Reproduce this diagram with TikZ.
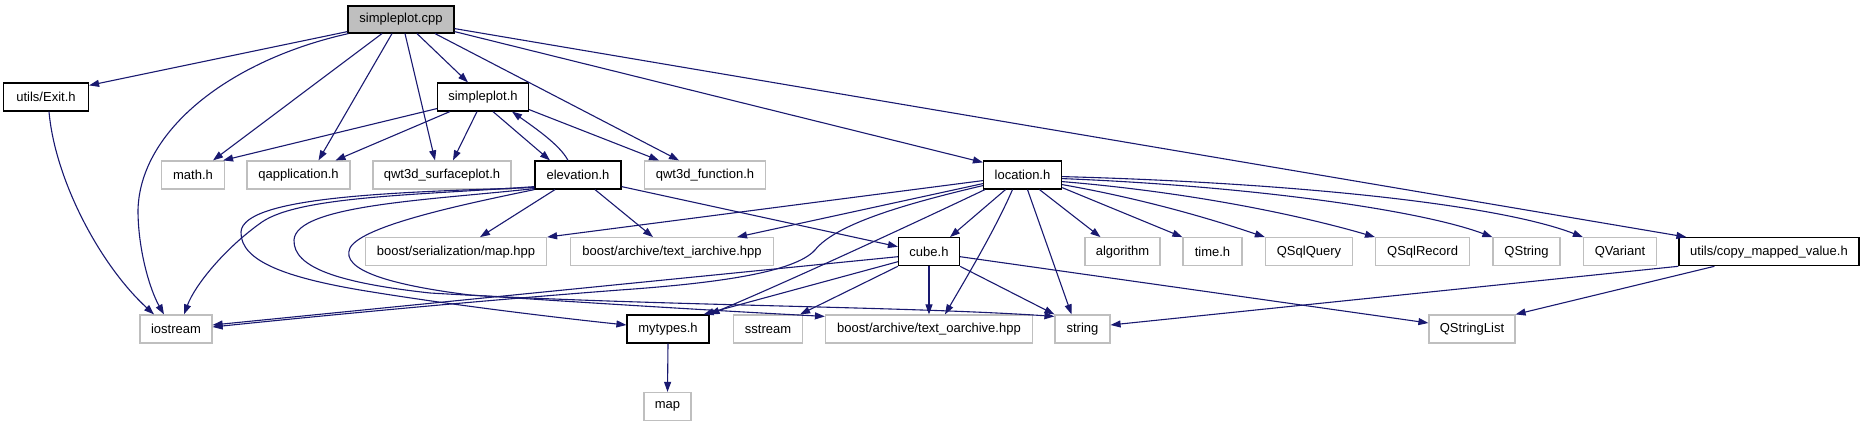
\documentclass[tikz,border=0pt]{standalone}
\usepackage{fontspec}
\setmainfont{Liberation Sans}
\usetikzlibrary{arrows.meta,calc}
\definecolor{navy}{HTML}{191970}
\definecolor{greyb}{HTML}{BFBFBF}
\begin{document}
\begin{tikzpicture}[x=1pt,y=-1pt,
  base/.style={rectangle,inner sep=0pt,minimum height=28pt,font=\fontsize{13}{15}\selectfont,fill=white},
  docnode/.style={base,draw=black,line width=1.2pt},
  extnode/.style={base,draw=greyb,line width=1.2pt},
  rootnode/.style={docnode,fill=greyb},
  edge/.style={draw=navy,line width=1.1pt,-{Triangle[length=10pt,width=7pt]}}]
\useasboundingbox (0,0) rectangle (1864,427);
% row 0
\node[rootnode,minimum width=106pt,minimum height=27pt] (cpp) at (401,19.5) {simpleplot.cpp};
% row 1
\node[docnode,minimum width=85pt] (exit) at (46,97) {utils/Exit.h};
\node[docnode,minimum width=91pt] (sph) at (483,97) {simpleplot.h};
% row 2
\node[extnode,minimum width=63pt] (math) at (193,175) {math.h};
\node[extnode,minimum width=103pt] (qapp) at (298.5,175) {qapplication.h};
\node[extnode,minimum width=138pt] (surf) at (442,175) {qwt3d\_surfaceplot.h};
\node[docnode,minimum width=86pt] (elev) at (578,175) {elevation.h};
\node[extnode,minimum width=121pt] (func) at (705,175) {qwt3d\_function.h};
\node[docnode,minimum width=78pt] (loc) at (1022.5,175) {location.h};
% row 3
\node[extnode,minimum width=181pt] (smap) at (456,251.7) {boost/serialization/map.hpp};
\node[extnode,minimum width=203pt] (iarch) at (672,251.7) {boost/archive/text\_iarchive.hpp};
\node[docnode,minimum width=61pt] (cube) at (929,251.7) {cube.h};
\node[extnode,minimum width=75pt] (algo) at (1122.5,251.7) {algorithm};
\node[extnode,minimum width=59pt] (time) at (1212.5,251.7) {time.h};
\node[extnode,minimum width=87pt] (sqlq) at (1309,251.7) {QSqlQuery};
\node[extnode,minimum width=94pt] (sqlr) at (1422.6,251.7) {QSqlRecord};
\node[extnode,minimum width=67pt] (qstr) at (1526.5,251.7) {QString};
\node[extnode,minimum width=73pt] (qvar) at (1620,251.7) {QVariant};
\node[docnode,minimum width=180pt] (copy) at (1769,251.7) {utils/copy\_mapped\_value.h};
% row 4
\node[extnode,minimum width=72pt] (ios) at (176,329) {iostream};
\node[docnode,minimum width=82pt] (myt) at (668,329) {mytypes.h};
\node[extnode,minimum width=69pt] (sstr) at (768,329) {sstream};
\node[extnode,minimum width=207pt] (oarch) at (929,329) {boost/archive/text\_oarchive.hpp};
\node[extnode,minimum width=55pt] (str) at (1082.5,329) {string};
\node[extnode,minimum width=86pt] (qsl) at (1472,329) {QStringList};
% row 5
\node[extnode,minimum width=47pt] (map) at (667.5,406.5) {map};

% simpleplot.cpp
\draw[edge] ([yshift=2pt]cpp.south west) -- ([yshift=-3pt]exit.north east);
\draw[edge] ([xshift=1pt]cpp.south west) .. controls (230,60) and (140,130) .. (138,210) .. controls (138,250) and (150,290) .. ([xshift=-12pt]ios.north);
\draw[edge] ([xshift=-19pt]cpp.south) -- ([xshift=20pt]math.north);
\draw[edge] ([xshift=-9pt]cpp.south) -- ([xshift=20pt]qapp.north);
\draw[edge] ([xshift=4pt]cpp.south) -- ([xshift=-7pt]surf.north);
\draw[edge] ([xshift=16pt]cpp.south) -- ([xshift=-15pt]sph.north);
\draw[edge] ([xshift=34pt]cpp.south) -- ([xshift=-26pt]func.north);
\draw[edge] ([yshift=2pt]cpp.south east) -- ([yshift=-2pt]loc.north west);
\draw[edge] ([yshift=5pt]cpp.south east) -- ([xshift=8pt]copy.north west);
% utils/Exit.h
\draw[edge] ([xshift=3pt]exit.south) .. controls (55,180) and (100,265) .. ([xshift=-22pt]ios.north);
% simpleplot.h
\draw[edge] ([yshift=3pt]sph.south west) -- ([xshift=-2pt]math.north east);
\draw[edge] ([xshift=13pt]sph.south west) -- ([xshift=37pt]qapp.north);
\draw[edge] ([xshift=-6pt]sph.south) -- ([xshift=11pt]surf.north);
\draw[edge] ([xshift=10pt]sph.south) -- ([xshift=-28pt]elev.north);
\draw[edge] ([yshift=2pt]sph.south east) -- ([xshift=-46pt]func.north);
% elevation.h
\draw[edge] ([xshift=-10pt]elev.north) .. controls (560,145) and (535,128) .. ([xshift=29pt]sph.south);
\draw[edge] ([xshift=-23pt]elev.south) -- ([xshift=24pt]smap.north);
\draw[edge] ([xshift=17pt]elev.south) -- ([xshift=-19pt]iarch.north);
\draw[edge] ([yshift=3pt]elev.south east) -- ([yshift=5pt]cube.west);
\draw[edge] ([yshift=3pt]elev.south west) .. controls (420,195) and (300,196) .. (262,222) .. controls (225,248) and (195,285) .. ([xshift=8pt]ios.north);
\draw[edge] ([yshift=2pt]elev.south west) .. controls (400,192) and (243,196) .. (241,232) .. controls (240,262) and (290,278) .. (360,290) .. controls (450,305) and (560,318) .. ([yshift=4pt]myt.west);
\draw[edge] ([yshift=1pt]elev.south west) .. controls (430,200) and (296,205) .. (294,240) .. controls (293,268) and (340,283) .. (430,293) .. controls (650,306) and (900,306) .. ([yshift=-2pt]str.north west);
\draw[edge] (elev.south west) .. controls (470,203) and (362,225) .. (350,248) .. controls (340,270) and (390,285) .. (470,295) .. controls (620,305) and (740,312) .. ([yshift=-2pt]oarch.north west);
% location.h
\draw[edge] ([yshift=9pt]loc.south west) -- (smap.north east);
\draw[edge] ([yshift=6pt]loc.south west) -- ([xshift=65pt]iarch.north);
\draw[edge] ([yshift=4pt]loc.south west) .. controls (900,205) and (835,225) .. (815,250) .. controls (795,272) and (720,283) .. (620,290) .. controls (450,303) and (300,318) .. ([yshift=2pt]ios.east);
\draw[edge] ([xshift=2pt]loc.south west) .. controls (900,230) and (780,285) .. (myt.north east);
\draw[edge] ([xshift=-17pt]loc.south) -- ([xshift=21pt]cube.north);
\draw[edge] ([xshift=-10pt]loc.south) .. controls (995,230) and (965,280) .. ([xshift=16pt]oarch.north);
\draw[edge] ([xshift=5pt]loc.south) -- ([xshift=-11pt]str.north);
\draw[edge] ([xshift=17pt]loc.south) -- ([xshift=-22pt]algo.north);
\draw[edge] ([yshift=2pt]loc.south east) -- (time.north west);
\draw[edge] ([yshift=5pt]loc.south east) .. controls (1150,200) and (1220,222) .. (sqlq.north west);
\draw[edge] ([yshift=8pt]loc.south east) .. controls (1200,193) and (1310,218) .. (sqlr.north west);
\draw[edge] ([yshift=11pt]loc.south east) .. controls (1250,186) and (1420,210) .. (qstr.north west);
\draw[edge] ([yshift=13pt]loc.south east) .. controls (1300,183) and (1500,205) .. (qvar.north west);
% cube.h
\draw[edge] ([yshift=-5pt]cube.west) -- ([yshift=4pt]ios.east);
\draw[edge] ([yshift=-10pt]cube.west) -- ([xshift=-6pt]myt.north east);
\draw[edge] (cube.south west) -- ([xshift=-3pt]sstr.north east);
\draw[edge] (cube.south) -- (oarch.north);
\draw[edge] (cube.south east) -- (str.north west);
\draw[edge] ([yshift=-5pt]cube.east) -- ([yshift=6pt]qsl.west);
% utils/copy_mapped_value.h
\draw[edge] (copy.south west) -- ([yshift=4pt]str.east);
\draw[edge] ([xshift=36pt]copy.south west) -- (qsl.north east);
% mytypes.h
\draw[edge] (myt.south) -- (map.north);
\end{tikzpicture}
\end{document}
